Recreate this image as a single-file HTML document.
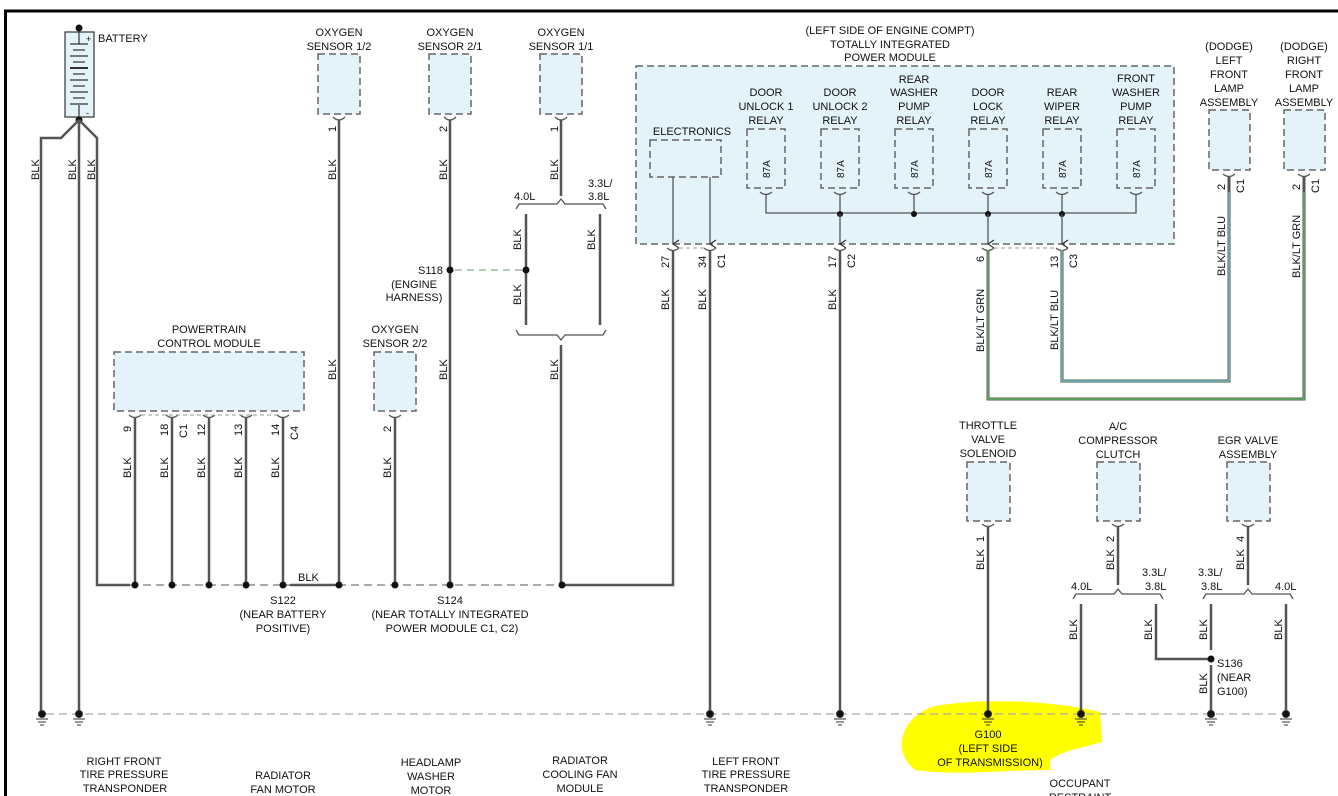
<!DOCTYPE html>
<html><head><meta charset="utf-8"><style>
html,body{margin:0;padding:0;background:#fff;}
svg{display:block;font-family:"Liberation Sans",Arial,sans-serif;}
text{font-size:11px;fill:#111;}
.w{stroke:#555;stroke-width:2.5;fill:none;}
.t{stroke:#555;stroke-width:1.3;fill:none;}
.bx{fill:#e4f2f9;stroke:#666;stroke-width:1.5;stroke-dasharray:7,4;}
.d{stroke:#999;stroke-width:1.3;stroke-dasharray:8,5;fill:none;}
.c{text-anchor:middle;}
</style></head><body>
<svg width="1338" height="796" viewBox="0 0 1338 796" xmlns="http://www.w3.org/2000/svg">
<defs>
<marker id="ar" markerWidth="10" markerHeight="10" refX="5" refY="8" orient="auto" markerUnits="userSpaceOnUse">
<path d="M1,2 L5,8 L9,2" fill="none" stroke="#333" stroke-width="1.2"/></marker>
</defs>
<!-- yellow highlight -->
<path d="M935,706 C980,698 1050,700 1100,712 L1102,742 C1080,748 1060,752 1050,760 L1050,770 C1000,770 960,776 915,770 C905,762 900,750 902,740 C905,725 915,712 935,706 Z" fill="#ffff00"/>
<!-- border -->
<path d="M5.5,796 L5.5,11 L1338,11" stroke="#000" stroke-width="3" fill="none"/>

<!-- Battery -->
<rect x="65" y="32" width="29" height="85" fill="#e4f2f9" stroke="#333" stroke-width="1.2"/>
<circle cx="79" cy="28" r="3.5" fill="#111"/>
<circle cx="79" cy="120" r="3.5" fill="#111"/>
<g stroke="#333" stroke-width="1.2">
<line x1="79" y1="32" x2="79" y2="44"/><line x1="79" y1="105" x2="79" y2="117"/>
<line x1="70" y1="44" x2="88" y2="44"/><line x1="73" y1="50" x2="85" y2="50"/>
<line x1="70" y1="56" x2="88" y2="56"/><line x1="73" y1="62" x2="85" y2="62"/>
<line x1="70" y1="68" x2="88" y2="68" stroke-width="2"/><line x1="73" y1="74" x2="85" y2="74"/>
<line x1="70" y1="80" x2="88" y2="80"/><line x1="73" y1="86" x2="85" y2="86"/>
<line x1="70" y1="92" x2="88" y2="92"/><line x1="73" y1="98" x2="85" y2="98"/>
<line x1="70" y1="104" x2="88" y2="104"/>
</g>
<text x="86" y="42" style="font-size:9px">+</text><text x="86" y="116" style="font-size:9px">-</text>
<text x="98" y="42">BATTERY</text>
<path class="w" d="M79,120 L61,138 L41,138 L41,713"/>
<path class="w" d="M79,120 L79,713"/>
<path class="w" d="M79,120 L97,138 L97,585 L130,585"/>
<text transform="translate(39,180) rotate(-90)">BLK</text>
<text transform="translate(76,180) rotate(-90)">BLK</text>
<text transform="translate(95,180) rotate(-90)">BLK</text>

<!-- Oxygen sensors top -->
<text class="c" x="339" y="36">OXYGEN</text><text class="c" x="339" y="50">SENSOR 1/2</text>
<rect class="bx" x="318" y="54" width="42" height="60"/>
<text class="c" x="450" y="36">OXYGEN</text><text class="c" x="450" y="50">SENSOR 2/1</text>
<rect class="bx" x="429" y="54" width="42" height="60"/>
<text class="c" x="561" y="36">OXYGEN</text><text class="c" x="561" y="50">SENSOR 1/1</text>
<rect class="bx" x="540" y="54" width="42" height="60"/>
<g class="t">
<path d="M333,117 q6,6 12,0"/><path d="M444,117 q6,6 12,0"/><path d="M555,117 q6,6 12,0"/>
</g>
<path class="w" d="M339,120 L339,585"/>
<path class="w" d="M450,120 L450,585"/>
<path class="w" d="M561,120 L561,196"/>
<text transform="translate(336,132) rotate(-90)">1</text>
<text transform="translate(447,132) rotate(-90)">2</text>
<text transform="translate(558,132) rotate(-90)">1</text>
<text transform="translate(336,180) rotate(-90)">BLK</text>
<text transform="translate(447,180) rotate(-90)">BLK</text>
<text transform="translate(558,180) rotate(-90)">BLK</text>
<!-- bracket -->
<path class="t" d="M516,209 L519,204 L557,204 L561,199 L565,204 L603,204 L606,209"/>
<text x="514" y="200">4.0L</text><text x="588" y="187">3.3L/</text><text x="588" y="200">3.8L</text>
<path class="w" d="M526,214 L526,325"/>
<path class="w" d="M600,214 L600,325"/>
<path class="t" d="M516,330 L519,335 L557,335 L561,340 L565,335 L603,335 L606,330"/>
<path class="w" d="M561,345 L561,585"/>
<text transform="translate(521,250) rotate(-90)">BLK</text>
<text transform="translate(521,305) rotate(-90)">BLK</text>
<text transform="translate(595,250) rotate(-90)">BLK</text>
<text transform="translate(558,380) rotate(-90)">BLK</text>
<line x1="455" y1="270" x2="522" y2="270" stroke="#8a8" stroke-width="1.2" stroke-dasharray="7,5"/>
<circle cx="450" cy="270" r="3.5" fill="#111"/><circle cx="526" cy="270" r="3.5" fill="#111"/>
<text x="418" y="274">S118</text><text class="c" x="414" y="288">(ENGINE</text><text class="c" x="414" y="301">HARNESS)</text>
<text transform="translate(447,380) rotate(-90)">BLK</text>
<text transform="translate(336,380) rotate(-90)">BLK</text>

<!-- TIPM -->
<text class="c" x="890" y="34">(LEFT SIDE OF ENGINE COMPT)</text>
<text class="c" x="890" y="48">TOTALLY INTEGRATED</text>
<text class="c" x="890" y="61">POWER MODULE</text>
<rect class="bx" x="636" y="66" width="538" height="178"/>
<text class="c" x="692" y="135">ELECTRONICS</text>
<rect class="bx" x="650" y="140" width="71" height="37"/>
<path class="t" d="M673,177 L673,244" marker-end="url(#ar)"/>
<path class="t" d="M710,177 L710,244" marker-end="url(#ar)"/>
<g>
<text class="c" x="766" y="96">DOOR</text><text class="c" x="766" y="110">UNLOCK 1</text><text class="c" x="766" y="124">RELAY</text>
<text class="c" x="840" y="96">DOOR</text><text class="c" x="840" y="110">UNLOCK 2</text><text class="c" x="840" y="124">RELAY</text>
<text class="c" x="914" y="83">REAR</text><text class="c" x="914" y="96">WASHER</text><text class="c" x="914" y="110">PUMP</text><text class="c" x="914" y="124">RELAY</text>
<text class="c" x="988" y="96">DOOR</text><text class="c" x="988" y="110">LOCK</text><text class="c" x="988" y="124">RELAY</text>
<text class="c" x="1062" y="96">REAR</text><text class="c" x="1062" y="110">WIPER</text><text class="c" x="1062" y="124">RELAY</text>
<text class="c" x="1136" y="82">FRONT</text><text class="c" x="1136" y="96">WASHER</text><text class="c" x="1136" y="110">PUMP</text><text class="c" x="1136" y="124">RELAY</text>
</g>
<g>
<rect class="bx" x="747" y="129" width="38" height="59"/>
<rect class="bx" x="821" y="129" width="38" height="59"/>
<rect class="bx" x="895" y="129" width="38" height="59"/>
<rect class="bx" x="969" y="129" width="38" height="59"/>
<rect class="bx" x="1043" y="129" width="38" height="59"/>
<rect class="bx" x="1117" y="129" width="38" height="59"/>
</g>
<g style="font-size:10px">
<text transform="translate(770,178) rotate(-90)" style="font-size:10px">87A</text>
<text transform="translate(844,178) rotate(-90)" style="font-size:10px">87A</text>
<text transform="translate(918,178) rotate(-90)" style="font-size:10px">87A</text>
<text transform="translate(992,178) rotate(-90)" style="font-size:10px">87A</text>
<text transform="translate(1066,178) rotate(-90)" style="font-size:10px">87A</text>
<text transform="translate(1140,178) rotate(-90)" style="font-size:10px">87A</text>
</g>
<g class="t">
<path d="M760,192 q6,5 12,0"/><path d="M834,192 q6,5 12,0"/><path d="M908,192 q6,5 12,0"/>
<path d="M982,192 q6,5 12,0"/><path d="M1056,192 q6,5 12,0"/><path d="M1130,192 q6,5 12,0"/>
<path d="M766,194 L766,213 L1136,213 L1136,194"/>
<path d="M840,194 L840,213"/><path d="M914,194 L914,213"/><path d="M988,194 L988,213"/><path d="M1062,194 L1062,213"/>
</g>
<circle cx="840" cy="214" r="3" fill="#111"/><circle cx="914" cy="214" r="3" fill="#111"/>
<circle cx="988" cy="214" r="3" fill="#111"/><circle cx="1062" cy="214" r="3" fill="#111"/>
<path class="t" d="M840,214 L840,244" marker-end="url(#ar)"/>
<path class="t" d="M988,214 L988,244" marker-end="url(#ar)"/>
<path class="t" d="M1062,214 L1062,244" marker-end="url(#ar)"/>
<g class="t">
<path d="M667,248 q6,5 12,0"/><path d="M704,248 q6,5 12,0"/><path d="M834,248 q6,5 12,0"/>
<path d="M982,248 q6,5 12,0"/><path d="M1056,248 q6,5 12,0"/>
</g>
<line x1="679" y1="248" x2="704" y2="248" stroke="#999" stroke-dasharray="4,3"/>
<line x1="994" y1="248" x2="1056" y2="248" stroke="#999" stroke-dasharray="4,3"/>
<path class="w" d="M673,250 L673,585 L563,585"/>
<path class="w" d="M710,250 L710,713"/>
<path class="w" d="M840,250 L840,713"/>
<path d="M988,250 L988,399 L1304,399 L1304,192" stroke="#555" stroke-width="3" fill="none"/>
<path d="M988,250 L988,399 L1304,399 L1304,192" stroke="#6d6" stroke-width="1" fill="none"/>
<path d="M1062,250 L1062,381 L1229,381 L1229,192" stroke="#555" stroke-width="3" fill="none"/>
<path d="M1062,250 L1062,381 L1229,381 L1229,192" stroke="#7ee" stroke-width="1" fill="none"/>
<text transform="translate(669,268) rotate(-90)">27</text>
<text transform="translate(706,268) rotate(-90)">34</text>
<text transform="translate(725,268) rotate(-90)">C1</text>
<text transform="translate(836,268) rotate(-90)">17</text>
<text transform="translate(855,268) rotate(-90)">C2</text>
<text transform="translate(984,262) rotate(-90)">6</text>
<text transform="translate(1058,268) rotate(-90)">13</text>
<text transform="translate(1077,268) rotate(-90)">C3</text>
<text transform="translate(669,310) rotate(-90)">BLK</text>
<text transform="translate(706,310) rotate(-90)">BLK</text>
<text transform="translate(836,310) rotate(-90)">BLK</text>
<text transform="translate(984,352) rotate(-90)">BLK/LT GRN</text>
<text transform="translate(1058,350) rotate(-90)">BLK/LT BLU</text>

<!-- Lamps -->
<text class="c" x="1229" y="50">(DODGE)</text><text class="c" x="1229" y="64">LEFT</text><text class="c" x="1229" y="78">FRONT</text><text class="c" x="1229" y="92">LAMP</text><text class="c" x="1229" y="106">ASSEMBLY</text>
<rect class="bx" x="1209" y="110" width="41" height="60"/>
<text class="c" x="1304" y="50">(DODGE)</text><text class="c" x="1304" y="64">RIGHT</text><text class="c" x="1304" y="78">FRONT</text><text class="c" x="1304" y="92">LAMP</text><text class="c" x="1304" y="106">ASSEMBLY</text>
<rect class="bx" x="1284" y="110" width="41" height="60"/>
<g class="t"><path d="M1223,174 q6,5 12,0"/><path d="M1298,174 q6,5 12,0"/></g>
<path d="M1229,176 L1229,192" stroke="#555" stroke-width="3"/><path d="M1304,176 L1304,192" stroke="#555" stroke-width="3"/>
<text transform="translate(1225,190) rotate(-90)">2</text><text transform="translate(1244,193) rotate(-90)">C1</text>
<text transform="translate(1300,190) rotate(-90)">2</text><text transform="translate(1319,193) rotate(-90)">C1</text>
<text transform="translate(1225,276) rotate(-90)">BLK/LT BLU</text>
<text transform="translate(1300,278) rotate(-90)">BLK/LT GRN</text>

<!-- PCM -->
<text class="c" x="209" y="333">POWERTRAIN</text><text class="c" x="209" y="347">CONTROL MODULE</text>
<rect class="bx" x="114" y="352" width="190" height="59"/>
<g class="t">
<path d="M129,415 q6,5 12,0"/><path d="M166,415 q6,5 12,0"/><path d="M203,415 q6,5 12,0"/><path d="M240,415 q6,5 12,0"/><path d="M277,415 q6,5 12,0"/>
</g>
<line x1="141" y1="415" x2="277" y2="415" stroke="#999" stroke-dasharray="4,3"/>
<path class="w" d="M135,417 L135,585"/><path class="w" d="M172,417 L172,585"/><path class="w" d="M209,417 L209,585"/><path class="w" d="M246,417 L246,585"/><path class="w" d="M283,417 L283,585"/>
<text transform="translate(131,432) rotate(-90)">9</text>
<text transform="translate(168,436) rotate(-90)">18</text><text transform="translate(187,438) rotate(-90)">C1</text>
<text transform="translate(205,436) rotate(-90)">12</text>
<text transform="translate(242,436) rotate(-90)">13</text>
<text transform="translate(279,436) rotate(-90)">14</text><text transform="translate(298,440) rotate(-90)">C4</text>
<text transform="translate(131,478) rotate(-90)">BLK</text><text transform="translate(168,478) rotate(-90)">BLK</text>
<text transform="translate(205,478) rotate(-90)">BLK</text><text transform="translate(242,478) rotate(-90)">BLK</text>
<text transform="translate(279,478) rotate(-90)">BLK</text>
<text class="c" x="395" y="333">OXYGEN</text><text class="c" x="395" y="347">SENSOR 2/2</text>
<rect class="bx" x="374" y="352" width="42" height="59"/>
<path class="t" d="M389,415 q6,5 12,0"/>
<path class="w" d="M395,417 L395,585"/>
<text transform="translate(391,432) rotate(-90)">2</text>
<text transform="translate(391,478) rotate(-90)">BLK</text>

<!-- splice row -->
<line class="d" x1="130" y1="585" x2="560" y2="585" style="stroke:#777"/>
<line x1="290" y1="585" x2="336" y2="585" stroke="#555" stroke-width="2.5"/>
<text x="298" y="581">BLK</text>
<g fill="#111">
<circle cx="135" cy="585" r="3.5"/><circle cx="172" cy="585" r="3.5"/><circle cx="209" cy="585" r="3.5"/>
<circle cx="246" cy="585" r="3.5"/><circle cx="283" cy="585" r="3.5"/><circle cx="339" cy="585" r="3.5"/>
<circle cx="395" cy="585" r="3.5"/><circle cx="450" cy="585" r="3.5"/><circle cx="562" cy="585" r="3.5"/>
</g>
<text class="c" x="283" y="604">S122</text><text class="c" x="283" y="618">(NEAR BATTERY</text><text class="c" x="283" y="632">POSITIVE)</text>
<text class="c" x="450" y="604">S124</text><text class="c" x="450" y="618">(NEAR TOTALLY INTEGRATED</text><text class="c" x="452" y="632">POWER MODULE C1, C2)</text>

<!-- right bottom components -->
<text class="c" x="988" y="429">THROTTLE</text><text class="c" x="988" y="443">VALVE</text><text class="c" x="988" y="457">SOLENOID</text>
<rect class="bx" x="967" y="462" width="43" height="59"/>
<text class="c" x="1118" y="430">A/C</text><text class="c" x="1118" y="444">COMPRESSOR</text><text class="c" x="1118" y="458">CLUTCH</text>
<rect class="bx" x="1097" y="462" width="43" height="59"/>
<text class="c" x="1248" y="444">EGR VALVE</text><text class="c" x="1248" y="458">ASSEMBLY</text>
<rect class="bx" x="1227" y="462" width="43" height="59"/>
<g class="t"><path d="M982,524 q6,5 12,0"/><path d="M1112,524 q6,5 12,0"/><path d="M1242,524 q6,5 12,0"/></g>
<path class="w" d="M988,526 L988,713"/>
<path class="w" d="M1118,526 L1118,585"/>
<path class="w" d="M1248,526 L1248,585"/>
<text transform="translate(984,542) rotate(-90)">1</text><text transform="translate(984,570) rotate(-90)">BLK</text>
<text transform="translate(1114,542) rotate(-90)">2</text><text transform="translate(1114,570) rotate(-90)">BLK</text>
<text transform="translate(1244,542) rotate(-90)">4</text><text transform="translate(1244,570) rotate(-90)">BLK</text>
<path class="t" d="M1073,599 L1076,594 L1114,594 L1118,589 L1122,594 L1160,594 L1163,599"/>
<path class="t" d="M1203,599 L1206,594 L1244,594 L1248,589 L1252,594 L1290,594 L1293,599"/>
<text x="1071" y="590">4.0L</text><text x="1142" y="576">3.3L/</text><text x="1145" y="590">3.8L</text>
<text x="1198" y="576">3.3L/</text><text x="1201" y="590">3.8L</text><text x="1275" y="590">4.0L</text>
<path class="w" d="M1081,604 L1081,713"/>
<path class="w" d="M1156,604 L1156,659 L1211,659"/>
<path class="w" d="M1211,604 L1211,650"/>
<path class="w" d="M1211,665 L1211,713"/>
<path class="w" d="M1286,604 L1286,713"/>
<circle cx="1211" cy="659" r="3.5" fill="#111"/>
<text transform="translate(1077,640) rotate(-90)">BLK</text>
<text transform="translate(1152,640) rotate(-90)">BLK</text>
<text transform="translate(1207,640) rotate(-90)">BLK</text>
<text transform="translate(1207,694) rotate(-90)">BLK</text>
<text transform="translate(1282,640) rotate(-90)">BLK</text>
<text x="1217" y="667">S136</text><text x="1217" y="681">(NEAR</text><text x="1217" y="695">G100)</text>

<!-- ground bus -->
<line class="d" x1="46" y1="714" x2="1290" y2="714" style="stroke:#aaa"/>
<g fill="#111" stroke="#333" stroke-width="1">
<g transform="translate(42,714)"><circle r="3.5"/><line x1="-6" y1="5" x2="6" y2="5"/><line x1="-4" y1="8" x2="4" y2="8"/><line x1="-2" y1="11" x2="2" y2="11"/></g>
<g transform="translate(79,714)"><circle r="3.5"/><line x1="-6" y1="5" x2="6" y2="5"/><line x1="-4" y1="8" x2="4" y2="8"/><line x1="-2" y1="11" x2="2" y2="11"/></g>
<g transform="translate(710,714)"><circle r="3.5"/><line x1="-6" y1="5" x2="6" y2="5"/><line x1="-4" y1="8" x2="4" y2="8"/><line x1="-2" y1="11" x2="2" y2="11"/></g>
<g transform="translate(840,714)"><circle r="3.5"/><line x1="-6" y1="5" x2="6" y2="5"/><line x1="-4" y1="8" x2="4" y2="8"/><line x1="-2" y1="11" x2="2" y2="11"/></g>
<g transform="translate(988,714)"><circle r="3.5"/><line x1="-6" y1="5" x2="6" y2="5"/><line x1="-4" y1="8" x2="4" y2="8"/><line x1="-2" y1="11" x2="2" y2="11"/></g>
<g transform="translate(1081,714)"><circle r="3.5"/><line x1="-6" y1="5" x2="6" y2="5"/><line x1="-4" y1="8" x2="4" y2="8"/><line x1="-2" y1="11" x2="2" y2="11"/></g>
<g transform="translate(1211,714)"><circle r="3.5"/><line x1="-6" y1="5" x2="6" y2="5"/><line x1="-4" y1="8" x2="4" y2="8"/><line x1="-2" y1="11" x2="2" y2="11"/></g>
<g transform="translate(1286,714)"><circle r="3.5"/><line x1="-6" y1="5" x2="6" y2="5"/><line x1="-4" y1="8" x2="4" y2="8"/><line x1="-2" y1="11" x2="2" y2="11"/></g>
</g>
<text class="c" x="988" y="738">G100</text><text class="c" x="988" y="752">(LEFT SIDE</text><text class="c" x="990" y="766">OF TRANSMISSION)</text>

<!-- bottom labels -->
<text class="c" x="124" y="765">RIGHT FRONT</text><text class="c" x="124" y="778">TIRE PRESSURE</text><text class="c" x="125" y="792">TRANSPONDER</text>
<text class="c" x="283" y="779">RADIATOR</text><text class="c" x="283" y="793">FAN MOTOR</text>
<text class="c" x="431" y="766">HEADLAMP</text><text class="c" x="431" y="780">WASHER</text><text class="c" x="431" y="794">MOTOR</text>
<text class="c" x="580" y="764">RADIATOR</text><text class="c" x="580" y="778">COOLING FAN</text><text class="c" x="580" y="792">MODULE</text>
<text class="c" x="746" y="765">LEFT FRONT</text><text class="c" x="746" y="778">TIRE PRESSURE</text><text class="c" x="746" y="792">TRANSPONDER</text>
<text class="c" x="1080" y="787">OCCUPANT</text><text class="c" x="1080" y="801">RESTRAINT</text>
</svg>
</body></html>
